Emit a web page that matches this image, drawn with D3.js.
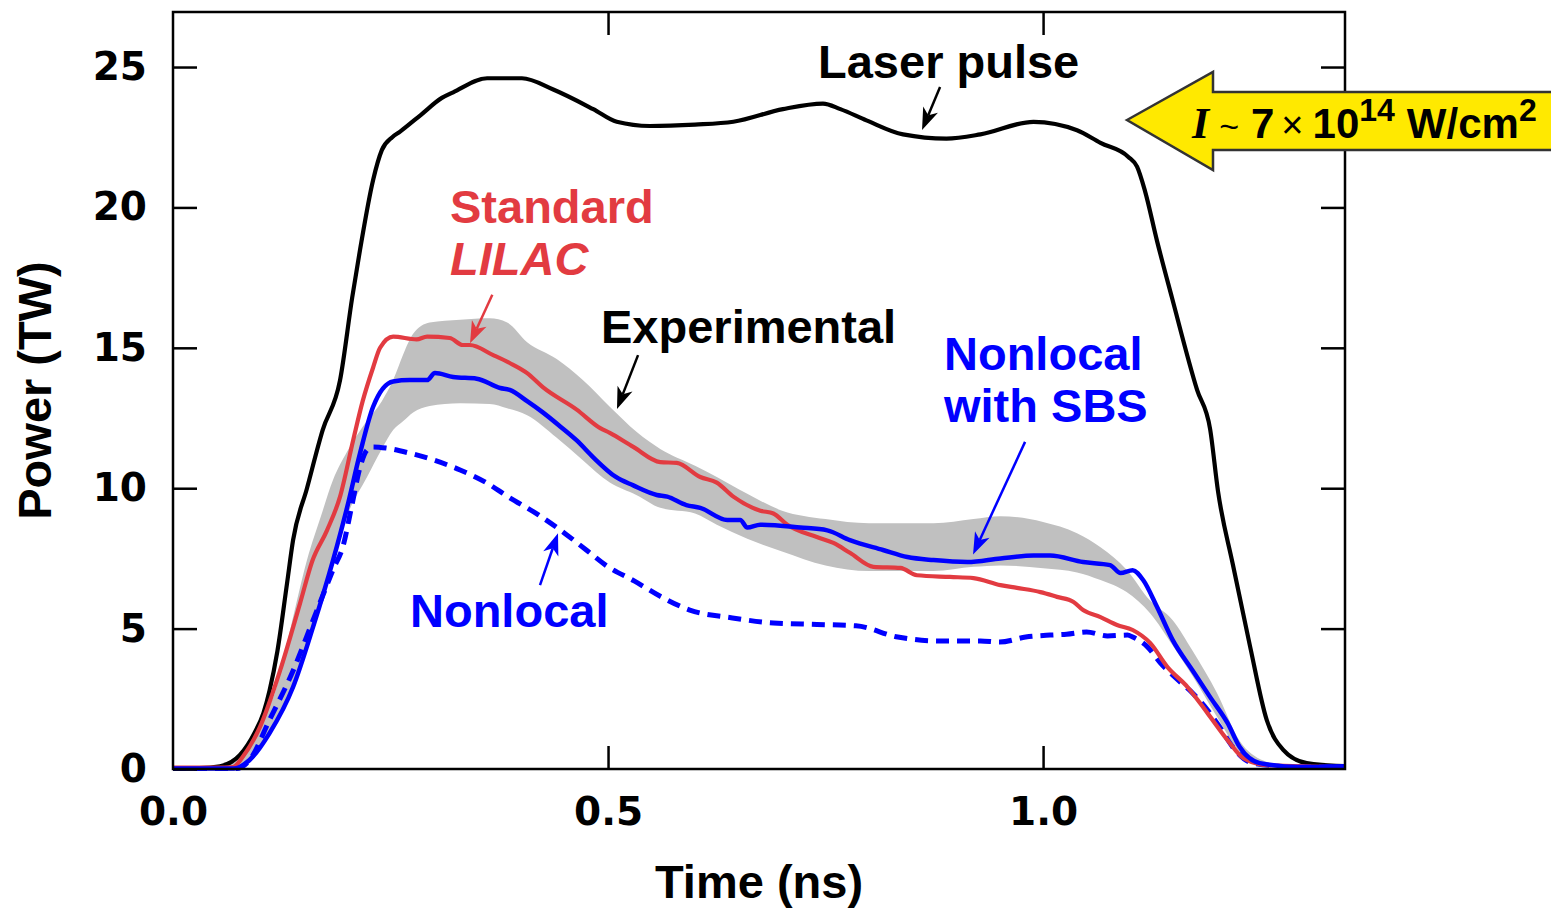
<!DOCTYPE html>
<html>
<head>
<meta charset="utf-8">
<script src="https://cdn.jsdelivr.net/npm/d3@7"></script>
<style>
  body { margin: 0; background: #fff; }
  svg { display: block; }
  .tick text { font-family: "DejaVu Sans", sans-serif; font-weight: bold; font-size: 39px; fill: #000; }
  .lab { font-family: "Liberation Sans", Arial, sans-serif; font-weight: bold; font-size: 47px; }
</style>
</head>
<body>
<svg id="chart" width="1551" height="912"></svg>
<script>
var width = 1551, height = 912;
var marginLeft = 173, plotRight = 1345, marginTop = 12, plotBottom = 769;

// laser pulse (black)
var laserT = [0, 0.03, 0.054, 0.077, 0.094, 0.104, 0.111, 0.12, 0.131, 0.138, 0.154, 0.172, 0.192, 0.206, 0.215, 0.23, 0.24, 0.252, 0.261, 0.285, 0.309, 0.322, 0.361, 0.401, 0.437, 0.483, 0.51, 0.548, 0.60, 0.644, 0.701, 0.747, 0.767, 0.797, 0.839, 0.889, 0.928, 0.989, 1.039, 1.066, 1.098, 1.108, 1.117, 1.131, 1.148, 1.177, 1.192, 1.201, 1.218, 1.238, 1.257, 1.276, 1.303, 1.347];
var laserP = [0.02, 0.03, 0.1, 0.5, 1.3, 2.0, 2.8, 4.2, 6.6, 8.15, 10.0, 12.07, 13.85, 16.8, 18.5, 20.98, 22.04, 22.5, 22.7, 23.3, 23.9, 24.1, 24.6, 24.6, 24.2, 23.5, 23.05, 22.9, 22.95, 23.05, 23.5, 23.7, 23.5, 23.1, 22.6, 22.45, 22.6, 23.05, 22.75, 22.3, 21.8, 21.45, 20.6, 18.8, 16.8, 13.5, 12.1, 9.9, 7.3, 4.35, 1.75, 0.68, 0.21, 0.1];

// experimental band (gray)
var expT = [0, 0.04, 0.06, 0.08, 0.10, 0.117, 0.135, 0.154, 0.17, 0.184, 0.20, 0.223, 0.24, 0.253, 0.265, 0.276, 0.295, 0.33, 0.364, 0.384, 0.407, 0.441, 0.471, 0.502, 0.533, 0.56, 0.60, 0.625, 0.66, 0.70, 0.75, 0.80, 0.874, 0.92, 0.951, 1.0, 1.039, 1.066, 1.096, 1.123, 1.149, 1.172, 1.20, 1.226, 1.253, 1.28, 1.347];
var expHi = [0, 0.05, 0.2, 0.7, 1.7, 2.7, 5.0, 7.44, 9.0, 10.3, 11.3, 12.4, 13.1, 13.85, 14.8, 15.5, 15.9, 16.0, 16.05, 15.9, 15.2, 14.6, 13.85, 12.9, 12.0, 11.4, 10.8, 10.4, 9.8, 9.2, 8.9, 8.75, 8.75, 8.9, 9.0, 8.8, 8.4, 7.9, 7.1, 6.0, 5.3, 4.2, 2.7, 1.0, 0.3, 0.1, 0.05];
var expLo = [0, 0, 0, 0.05, 0.7, 1.6, 2.7, 4.4, 5.9, 7.4, 9.0, 10.4, 11.4, 12.07, 12.4, 12.7, 12.93, 13.03, 13.0, 12.85, 12.6, 11.8, 11.0, 10.2, 9.75, 9.3, 9.1, 8.7, 8.2, 7.75, 7.25, 7.05, 7.05, 7.2, 7.25, 7.15, 7.0, 6.73, 6.3, 5.55, 4.4, 3.3, 1.85, 0.6, 0.1, 0.05, 0.02];

// standard LILAC (red)
var stdT = [0, 0.05, 0.069, 0.08, 0.1, 0.123, 0.146, 0.16, 0.177, 0.192, 0.207, 0.218, 0.23, 0.238, 0.253, 0.28, 0.292, 0.318, 0.333, 0.341, 0.368, 0.387, 0.407, 0.425, 0.464, 0.491, 0.502, 0.529, 0.56, 0.579, 0.606, 0.625, 0.644, 0.675, 0.69, 0.706, 0.74, 0.759, 0.778, 0.805, 0.836, 0.855, 0.893, 0.92, 0.951, 0.97, 0.997, 1.016, 1.035, 1.046, 1.066, 1.085, 1.103, 1.123, 1.143, 1.166, 1.189, 1.212, 1.23, 1.257, 1.347];
var stdP = [0.05, 0.05, 0.07, 0.43, 1.5, 3.5, 5.9, 7.4, 8.5, 9.7, 11.7, 13.1, 14.3, 15.0, 15.4, 15.3, 15.4, 15.35, 15.1, 15.1, 14.74, 14.46, 14.1, 13.6, 12.8, 12.14, 11.97, 11.47, 10.93, 10.9, 10.4, 10.2, 9.7, 9.2, 9.1, 8.7, 8.26, 8.05, 7.7, 7.2, 7.16, 6.9, 6.84, 6.8, 6.55, 6.45, 6.3, 6.13, 5.95, 5.66, 5.41, 5.13, 4.95, 4.49, 3.63, 2.92, 1.99, 1.03, 0.39, 0.14, 0.07];

// nonlocal with SBS (blue solid)
var sbsT = [0, 0.07, 0.088, 0.111, 0.138, 0.161, 0.184, 0.2, 0.215, 0.23, 0.253, 0.272, 0.292, 0.301, 0.322, 0.349, 0.376, 0.387, 0.407, 0.425, 0.445, 0.464, 0.483, 0.509, 0.529, 0.556, 0.568, 0.59, 0.606, 0.637, 0.652, 0.66, 0.675, 0.721, 0.752, 0.778, 0.816, 0.844, 0.874, 0.913, 0.951, 0.989, 1.008, 1.046, 1.077, 1.089, 1.103, 1.115, 1.131, 1.149, 1.172, 1.192, 1.212, 1.226, 1.249, 1.295, 1.347];
var sbsP = [0.02, 0.02, 0.32, 1.28, 2.92, 5.06, 7.44, 9.3, 11.25, 12.9, 13.8, 13.85, 13.85, 14.1, 13.96, 13.9, 13.57, 13.5, 13.1, 12.7, 12.2, 11.7, 11.1, 10.4, 10.1, 9.76, 9.7, 9.4, 9.3, 8.87, 8.87, 8.6, 8.7, 8.6, 8.5, 8.15, 7.8, 7.55, 7.44, 7.37, 7.5, 7.6, 7.6, 7.37, 7.26, 6.98, 7.08, 6.73, 5.77, 4.59, 3.5, 2.56, 1.64, 0.78, 0.21, 0.07, 0.1];

// nonlocal (blue dashed)
var nlT = [0, 0.073, 0.088, 0.111, 0.138, 0.161, 0.184, 0.196, 0.205, 0.215, 0.223, 0.23, 0.245, 0.272, 0.30, 0.33, 0.36, 0.385, 0.42, 0.45, 0.475, 0.50, 0.53, 0.56, 0.594, 0.643, 0.69, 0.74, 0.785, 0.833, 0.88, 0.928, 0.95, 0.98, 1.008, 1.027, 1.05, 1.074, 1.097, 1.103, 1.12, 1.135, 1.155, 1.172, 1.189, 1.203, 1.218, 1.241, 1.295, 1.347];
var nlP = [0.02, 0.02, 0.32, 1.75, 3.5, 5.3, 7.1, 8.0, 9.3, 10.75, 11.36, 11.47, 11.43, 11.25, 11.0, 10.65, 10.2, 9.7, 9.05, 8.4, 7.8, 7.2, 6.7, 6.15, 5.66, 5.38, 5.2, 5.15, 5.1, 4.7, 4.56, 4.56, 4.52, 4.7, 4.77, 4.8, 4.88, 4.74, 4.77, 4.7, 4.35, 3.77, 3.17, 2.7, 2.1, 1.5, 0.78, 0.21, 0.07, 0.07];

var yTicks = [0, 5, 10, 15, 20, 25];
var xTicks = [0, 0.5, 1.0];

var red = "#e23b41", blue = "#0000ff";

var svg = d3.select("#chart");

var x = d3.scaleLinear().domain([0, 1.347]).range([marginLeft, plotRight]);
var y = d3.scaleLinear().domain([0, 26.96]).range([plotBottom, marginTop]);

function pairs(t, p) { return t.map(function(d, i) { return [d, p[i]]; }); }

var line = d3.line()
  .x(function(d) { return x(d[0]); })
  .y(function(d) { return y(d[1]); })
  .curve(d3.curveMonotoneX);

// gray band
var band = d3.area()
  .x(function(d) { return x(d.t); })
  .y0(function(d) { return y(d.lo); })
  .y1(function(d) { return y(d.hi); })
  .curve(d3.curveMonotoneX);

svg.append("path")
  .datum(expT.map(function(t, i) { return {t: t, lo: expLo[i], hi: expHi[i]}; }))
  .attr("d", band)
  .attr("fill", "#c0c0c0");

svg.append("path").datum(pairs(laserT, laserP)).attr("d", line)
  .attr("fill", "none").attr("stroke", "#000").attr("stroke-width", 4.2);
svg.append("path").datum(pairs(nlT, nlP)).attr("d", line)
  .attr("fill", "none").attr("stroke", blue).attr("stroke-width", 5)
  .attr("stroke-dasharray", "13,8");
svg.append("path").datum(pairs(stdT, stdP)).attr("d", line)
  .attr("fill", "none").attr("stroke", red).attr("stroke-width", 4.2);
svg.append("path").datum(pairs(sbsT, sbsP)).attr("d", line)
  .attr("fill", "none").attr("stroke", blue).attr("stroke-width", 4.5);

// frame
svg.append("rect")
  .attr("x", marginLeft).attr("y", marginTop)
  .attr("width", plotRight - marginLeft).attr("height", plotBottom - marginTop)
  .attr("fill", "none").attr("stroke", "#000").attr("stroke-width", 2.5);

// axes with inward ticks
var yAxis = svg.append("g").attr("transform", "translate(" + marginLeft + ",0)")
  .call(d3.axisLeft(y).tickValues(yTicks).tickSizeInner(-24).tickSizeOuter(0).tickPadding(26));
yAxis.select(".domain").remove();
yAxis.selectAll(".tick line").attr("stroke", "#000").attr("stroke-width", 2.5);

var yAxisR = svg.append("g").attr("transform", "translate(" + plotRight + ",0)")
  .call(d3.axisRight(y).tickValues(yTicks.slice(1)).tickSizeInner(-24).tickSizeOuter(0).tickFormat(""));
yAxisR.select(".domain").remove();
yAxisR.selectAll(".tick line").attr("stroke", "#000").attr("stroke-width", 2.5);

var xAxis = svg.append("g").attr("transform", "translate(0," + plotBottom + ")")
  .call(d3.axisBottom(x).tickValues(xTicks).tickFormat(d3.format(".1f")).tickSizeInner(-23).tickSizeOuter(0).tickPadding(28));
xAxis.select(".domain").remove();
xAxis.selectAll(".tick line").attr("stroke", "#000").attr("stroke-width", 2.5)
  .attr("display", function(d) { return d === 0 ? "none" : null; });

var xAxisT = svg.append("g").attr("transform", "translate(0," + marginTop + ")")
  .call(d3.axisTop(x).tickValues(xTicks.slice(1)).tickSizeInner(-23).tickSizeOuter(0).tickFormat(""));
xAxisT.select(".domain").remove();
xAxisT.selectAll(".tick line").attr("stroke", "#000").attr("stroke-width", 2.5);

// axis titles
svg.append("text").attr("class", "lab")
  .attr("x", (marginLeft + plotRight) / 2).attr("y", 898)
  .attr("text-anchor", "middle").attr("font-size", 46)
  .text("Time (ns)");
svg.append("text").attr("class", "lab")
  .attr("transform", "translate(51," + ((marginTop + plotBottom) / 2) + ") rotate(-90)")
  .attr("text-anchor", "middle").attr("font-size", 46)
  .text("Power (TW)");

// annotation arrows: from (t1,p1) to tip (t2,p2), in data units
function arrow(t1, p1, t2, p2, color, w) {
  var x1 = x(t1), y1 = y(p1), x2 = x(t2), y2 = y(p2);
  var a = Math.atan2(y2 - y1, x2 - x1);
  var L = 22, W = 8, N = 16;
  var bx = x2 - L * Math.cos(a), by = y2 - L * Math.sin(a);
  var nx = x2 - N * Math.cos(a), ny = y2 - N * Math.sin(a);
  svg.append("line")
    .attr("x1", x1).attr("y1", y1).attr("x2", nx).attr("y2", ny)
    .attr("stroke", color).attr("stroke-width", w);
  svg.append("polygon")
    .attr("points", [
      [x2, y2],
      [bx + W * Math.sin(a), by - W * Math.cos(a)],
      [nx, ny],
      [bx - W * Math.sin(a), by + W * Math.cos(a)]
    ].map(function(p) { return p.join(","); }).join(" "))
    .attr("fill", color);
}

arrow(0.8816, 24.29, 0.8609, 22.76, "#000", 2.5);
arrow(0.3670, 16.89, 0.3414, 15.16, red, 2.5);
arrow(0.5345, 14.74, 0.5103, 12.82, "#000", 2.5);
arrow(0.9793, 11.65, 0.9195, 7.64, blue, 2.5);
arrow(0.4218, 6.55, 0.4425, 8.40, blue, 2.5);

// labels
svg.append("text").attr("class", "lab").attr("x", 818).attr("y", 78).attr("fill", "#000").text("Laser pulse");
svg.append("text").attr("class", "lab").attr("x", 450).attr("y", 223).attr("fill", red).text("Standard");
svg.append("text").attr("class", "lab").attr("x", 450).attr("y", 275).attr("fill", red).attr("font-style", "italic").text("LILAC");
svg.append("text").attr("class", "lab").attr("x", 601).attr("y", 343).attr("fill", "#000").text("Experimental");
svg.append("text").attr("class", "lab").attr("x", 944).attr("y", 370).attr("fill", blue).text("Nonlocal");
svg.append("text").attr("class", "lab").attr("x", 944).attr("y", 422).attr("fill", blue).text("with SBS");
svg.append("text").attr("class", "lab").attr("x", 410).attr("y", 627).attr("fill", blue).text("Nonlocal");

// yellow intensity arrow
svg.append("polygon")
  .attr("points", "1127,120 1213,72 1213,92 1560,92 1560,150 1213,150 1213,170")
  .attr("fill", "#ffe900").attr("stroke", "#333").attr("stroke-width", 2.5)
  .attr("stroke-linejoin", "miter");

var intens = svg.append("text").attr("x", 1192).attr("y", 138)
  .attr("font-family", "Liberation Sans, Arial, sans-serif").attr("font-weight", "bold")
  .attr("font-size", 42).attr("fill", "#000");
intens.append("tspan").attr("font-family", "Liberation Serif, serif").attr("font-style", "italic")
  .attr("font-size", 44).text("I");
intens.append("tspan").attr("font-weight", "normal").attr("font-size", 34).attr("dx", 10).text("~");
intens.append("tspan").attr("dx", 12).text("7");
intens.append("tspan").attr("font-weight", "normal").attr("font-size", 38).attr("dx", 7).text("×");
intens.append("tspan").attr("dx", 9).text("10");
intens.append("tspan").attr("font-size", 32).attr("dy", -17).text("14");
intens.append("tspan").attr("dy", 17).attr("dx", 12).text("W/cm");
intens.append("tspan").attr("font-size", 32).attr("dy", -17).text("2");
</script>
</body>
</html>
